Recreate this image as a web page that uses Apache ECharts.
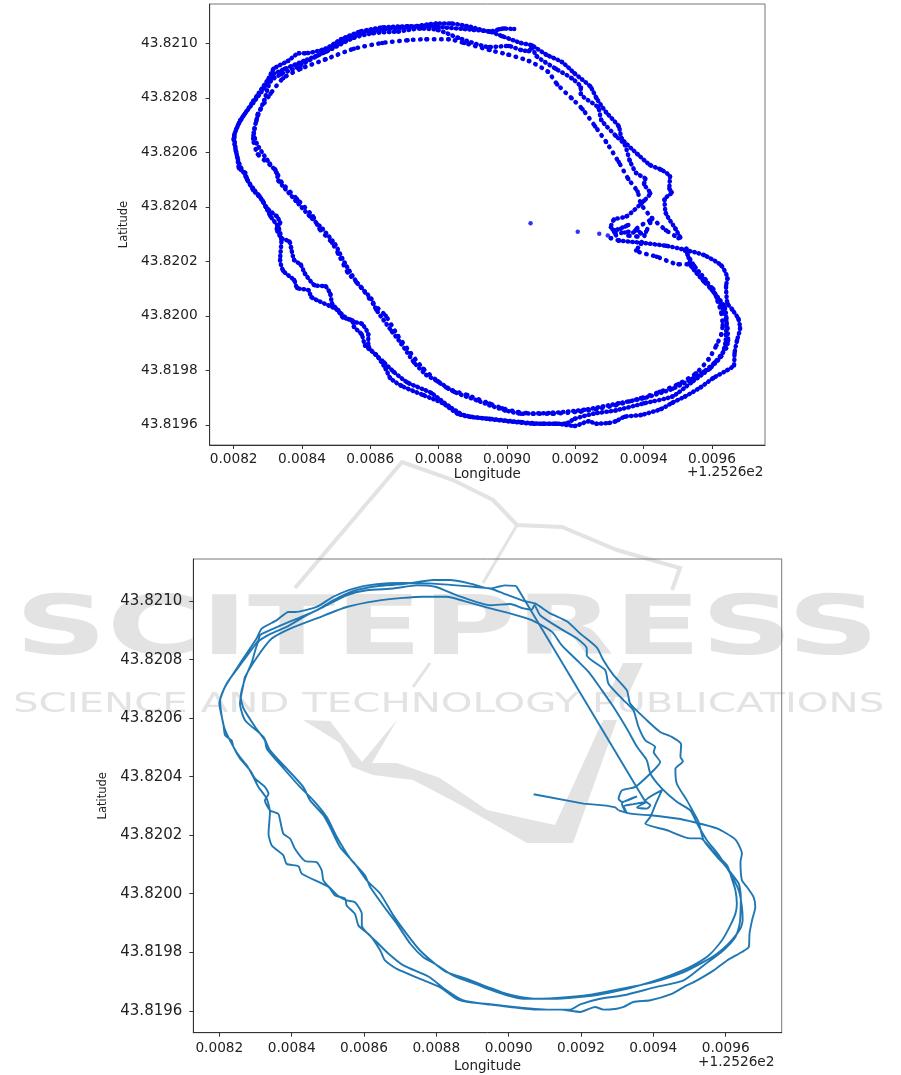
<!DOCTYPE html>
<html><head><meta charset="utf-8">
<style>html,body{margin:0;padding:0;background:#fff}#c{width:901px;height:1075px}</style>
<script src="https://cdn.jsdelivr.net/npm/echarts@6/dist/echarts.min.js"></script>
</head><body><div id="c"></div>
<script>
// Track readings as [longitude, latitude], in 1e-5 degrees from the base 125.26 / 43.82
const standingPoints = [[906.9,34.0],[920.7,30.8],[927.0,30.1],[929.5,29.5]];
const lap1 = [[930.4,28.5],[932.7,27.6],[931.8,29.9],[934.5,30.6],[938.2,31.4],[935.5,29.5],[938.2,29.1],[939.2,30.2],[937.8,31.7],[942.4,35.4],[940.7,30.8],[939.2,26.3],[937.8,24.0],[943.8,21.7],[950.2,18.9],[953.0,18.9],[956.7,14.3],[960.4,9.7],[961.7,5.2],[962.7,1.2],[963.1,-3.4],[962.7,-6.8],[961.3,-10.8],[959.0,-15.9],[955.3,-21.1],[950.2,-25.0],[944.7,-27.9],[939.2,-30.2],[931.8,-32.8],[926.2,-34.2],[921.6,-35.1],[913.3,-35.9],[907.8,-35.9],[903.2,-35.3],[898.6,-33.9],[894.9,-32.2],[888.4,-29.1],[882.9,-26.8],[879.7,-24.0],[875.5,-19.4],[871.8,-13.7],[868.1,-7.4],[864.5,0.0],[860.8,4.5],[857.5,10.2],[853.4,15.9],[850.6,22.8],[848.8,26.8],[845.1,31.9],[843.2,36.5],[838.6,42.8],[834.0,49.0],[832.2,53.6],[827.1,59.3],[825.7,65.0],[826.7,71.8],[827.1,74.1],[830.8,81.5],[834.5,87.2],[839.6,90.6],[846.9,94.1],[855.2,98.0],[863.5,100.1],[870.9,101.1],[876.4,101.5],[882.9,101.5],[887.5,100.1],[894.9,97.5],[900.4,95.8],[906.4,93.5],[912.0,89.5],[914.7,84.9],[918.9,79.8],[922.1,75.8],[925.8,69.5],[929.0,63.8],[932.7,56.4],[935.5,50.2],[938.2,45.6],[939.2,41.0],[942.4,35.9],[946.5,31.4],[950.2,28.5]];
const lap2 = [[952.1,24.0],[954.8,18.3],[958.1,13.2],[961.3,6.9],[963.6,1.2],[964.5,-4.5],[964.7,-9.1],[964.1,-11.9],[960.8,-17.1],[957.6,-20.5],[953.9,-23.3],[948.4,-26.8],[940.1,-30.2],[932.7,-32.1],[922.6,-34.5],[913.3,-35.6],[904.1,-35.9],[899.5,-34.7],[894.9,-32.8],[891.2,-31.0],[884.7,-28.0],[879.7,-24.0],[876.4,-21.7],[872.8,-17.1],[869.1,-10.3],[866.3,-5.7],[861.7,2.3],[860.3,6.2],[856.2,12.0],[852.5,19.4],[849.7,26.2],[846.0,31.9],[842.3,36.5],[838.2,42.2],[833.1,49.6],[832.6,52.4],[829.9,57.0],[826.7,63.3],[825.9,67.3],[827.1,73.5],[829.0,79.2],[830.8,86.1],[834.0,88.7],[838.6,91.2],[844.2,95.2],[848.8,98.0],[855.2,102.0],[860.8,103.7],[868.1,104.3],[874.6,105.4],[879.7,104.9],[885.7,102.0],[894.9,98.6],[900.4,99.0],[904.1,97.5],[906.4,97.1],[907.1,98.6],[908.7,95.2],[914.3,90.6],[918.9,87.2],[921.6,83.8],[921.6,81.5],[926.7,76.4],[927.6,71.8],[931.8,66.1],[934.5,62.7],[935.9,57.0],[937.8,52.4],[940.5,50.2],[940.1,48.4],[941.9,45.0],[940.1,42.2],[935.0,36.5],[931.3,35.3],[930.4,32.5],[931.3,31.4],[935.5,33.3],[931.3,30.8]];
const lap3 = [[932.7,27.6],[939.2,26.8],[946.5,25.7],[951.1,24.5],[957.6,22.3],[962.7,18.5],[964.5,13.7],[964.1,10.9],[964.5,4.6],[965.9,2.3],[967.7,-1.1],[968.2,-4.5],[967.3,-9.1],[966.6,-13.6],[966.4,-18.2],[964.5,-19.9],[960.4,-22.8],[956.7,-26.2],[952.1,-29.6],[948.4,-31.9],[945.1,-34.2],[939.2,-36.4],[934.5,-37.0],[931.8,-38.7],[929.9,-39.3],[926.2,-39.6],[923.9,-38.7],[919.8,-40.4],[914.3,-39.6],[907.8,-39.6],[900.4,-38.7],[894.9,-37.9],[887.5,-36.5],[882.9,-33.1],[877.8,-28.3],[870.9,-24.5],[866.8,-20.5],[864.0,-17.1],[859.4,-10.9],[859.4,-6.9],[857.5,-2.9],[855.2,-2.3],[852.5,-0.4],[850.6,2.0],[848.8,4.5],[848.3,8.0],[846.9,10.8],[843.7,11.2],[840.9,15.4],[839.6,18.8],[837.7,20.5],[836.8,25.1],[836.3,27.3],[834.0,28.5],[832.6,31.9],[833.6,34.2],[832.6,36.5],[829.9,39.3],[828.5,42.2],[825.7,46.2],[823.9,50.2],[823.4,52.4],[821.6,54.1],[821.1,58.1],[820.0,65.0],[821.6,70.7],[825.7,78.7],[830.3,87.2],[831.7,90.6],[835.9,93.5],[839.1,96.3],[840.9,96.3],[846.9,98.0],[851.5,101.5],[857.1,104.3],[863.5,105.8],[870.9,106.2],[879.2,106.0],[890.3,104.9],[894.9,104.3],[898.6,102.6],[904.1,100.1],[907.3,99.2],[911.5,95.8],[916.1,93.1],[919.8,88.9],[924.4,84.1],[926.2,79.8],[929.0,74.7],[932.7,69.5],[933.6,65.0],[938.2,59.3],[941.9,55.3],[945.1,53.6],[947.7,51.1],[947.5,46.7],[948.2,45.3],[946.1,42.7],[946.5,37.6],[949.3,31.9],[950.7,28.7]];
const lap4 = [[952.5,24.6],[953.9,18.3],[957.6,12.6],[959.4,10.3],[963.6,3.5],[964.2,-1.1],[964.1,-6.8],[963.9,-10.2],[962.7,-14.8],[959.4,-19.3],[953.9,-24.5],[948.4,-29.6],[940.1,-32.1],[931.8,-34.7],[925.3,-35.9],[919.8,-37.8],[917.0,-39.6],[910.6,-39.6],[904.1,-39.0],[894.9,-37.8],[889.3,-37.1],[885.7,-36.0],[881.1,-32.0],[875.5,-29.1],[869.1,-25.7],[865.8,-22.8],[864.5,-19.4],[861.7,-14.3],[858.5,-10.9],[857.5,-6.9],[855.2,-4.0],[854.8,-1.7],[852.0,-0.6],[850.2,2.3],[842.8,6.8],[841.9,9.4],[838.6,10.2],[837.7,13.1],[834.5,16.5],[833.6,20.5],[834.0,27.9],[833.1,32.5],[830.8,36.5],[829.4,39.9],[827.6,43.9],[825.7,46.7],[823.9,50.2],[821.6,55.9],[820.7,60.4],[820.2,66.1],[822.0,71.8],[825.7,78.1],[830.8,86.6],[831.3,88.4],[835.0,90.6],[840.5,93.5],[847.0,96.9],[851.5,100.3],[857.1,103.5],[863.5,105.1],[870.9,105.8],[879.2,107.2],[883.8,107.2],[889.4,106.0],[894.9,104.3],[897.7,105.1],[899.0,105.4],[902.1,105.2]];
const lastFix = [[937.8,31.4]];
const lonTicks = ["0.0082","0.0084","0.0086","0.0088","0.0090","0.0092","0.0094","0.0096"];
const latTicks = ["43.8196","43.8198","43.8200","43.8202","43.8204","43.8206","43.8208","43.8210"];
const lonTitle = "Longitude", latTitle = "Latitude", lonOffset = "+1.2526e2";
const markText = "SCITEPRESS", markSub = "SCIENCE AND TECHNOLOGY PUBLICATIONS";

const toDeg = p => [p[0] / 1e5, 43.82 + p[1] / 1e5];
const FONT = '"DejaVu Sans"', INK = '#222';
const xAxis = (gridIndex, min, max, nameGap, margin) => ({
  type:'value', gridIndex, min, max, scale:true, name:lonTitle, nameLocation:'middle', nameGap,
  nameTextStyle:{fontFamily:FONT,fontSize:13.5,color:INK},
  splitLine:{show:false}, axisLine:{show:true,onZero:false,lineStyle:{color:'#333',width:1}},
  axisTick:{show:true,length:4,customValues:lonTicks.map(Number),lineStyle:{color:'#333'}},
  axisLabel:{fontFamily:FONT,fontSize:13.7,color:INK,margin,customValues:lonTicks.map(Number),formatter:v=>v.toFixed(4)}
});
const yAxis = (gridIndex, min, max, nameGap, margin, fontSize) => ({
  type:'value', gridIndex, min, max, scale:true, name:latTitle, nameLocation:'middle', nameGap,
  nameTextStyle:{fontFamily:FONT,fontSize:11.5,color:INK},
  splitLine:{show:false}, axisLine:{show:true,onZero:false,lineStyle:{color:'#333',width:1}},
  axisTick:{show:true,length:4,customValues:latTicks.map(Number),lineStyle:{color:'#333'}},
  axisLabel:{fontFamily:FONT,fontSize,color:INK,margin,padding:[3,0,0,0],customValues:latTicks.map(Number),formatter:v=>v.toFixed(4)}
});
const dotted = (data, gap) => ({
  type:'line', xAxisIndex:0, yAxisIndex:0, data:data.map(toDeg), smooth:0.2, silent:true,
  showSymbol:true, showAllSymbol:true, symbol:'circle', symbolSize:4.5, itemStyle:{color:'#0000f0'},
  lineStyle:{color:'#0000f0',width:4.5,type:[0.5,gap],cap:'round'}, animation:false
});
const trackLine = (data, smooth) => ({
  type:'line', xAxisIndex:1, yAxisIndex:1, data:data.map(toDeg), showSymbol:false, smooth, silent:true,
  lineStyle:{color:'#1f77b4',width:1.9}
});
const tail = standingPoints.concat(lap1.slice(0,1));
const body = [].concat(lap1, lap2, lap3, lap4);
const returnLeg = lap4.slice(-1).concat(lastFix);

const grey = '#e3e3e3';
const chart = echarts.init(document.getElementById('c'), null, {renderer:'canvas', width:901, height:1075});
chart.setOption({
  animation:false, backgroundColor:'#fff',
  grid:[
    {left:209.7, top:4, width:555.3, height:441, show:true, borderColor:'#777', borderWidth:1, backgroundColor:'transparent'},
    {left:193.3, top:559, width:588.4, height:473.7, show:true, borderColor:'#777', borderWidth:1, backgroundColor:'transparent'}
  ],
  xAxis:[xAxis(0,0.00813,0.009755,22,7), xAxis(1,0.008128,0.009755,27,9)],
  yAxis:[yAxis(0,43.819526,43.821144,74,12,13.7), yAxis(1,43.819525,43.821144,77,11,15)],
  series:[
    {type:'scatter', xAxisIndex:0, yAxisIndex:0, data:standingPoints.map(toDeg), symbolSize:4.5, itemStyle:{color:'#0000f0'}, silent:true},
    dotted(lap1,6.5), dotted(lap2,4.5), dotted(lap3,4), dotted(lap4,4),
    trackLine(tail,false), trackLine(body,0.2), trackLine(returnLeg,false)
  ],
  graphic:{elements:[
    {type:'polyline',z:-1,silent:true,shape:{points:[[295,588],[402,462],[453,480],[493,500],[517,525],[562,527],[617,550],[680,568],[672,590]]},style:{stroke:grey,lineWidth:4,fill:null}},
    {type:'polyline',z:-1,silent:true,shape:{points:[[517,525],[483,583]]},style:{stroke:grey,lineWidth:3,fill:null}},
    {type:'polyline',z:-1,silent:true,shape:{points:[[430,663],[413,687]]},style:{stroke:grey,lineWidth:3,fill:null}},
    {type:'polygon',z:-1,silent:true,shape:{points:[[303,720],[330,721],[350,747],[362,762],[397,720],[372,763],[397,763],[440,778],[487,810],[555,825],[603,720],[617,720],[573,843],[527,843],[457,803],[413,780],[373,775],[352,767],[340,743]]},style:{fill:grey}},
    {type:'polygon',z:-1,silent:true,shape:{points:[[623,663],[643,663],[627,697],[607,697]]},style:{fill:grey}},
    {type:'text',z:-1,silent:true,x:15,y:633,scaleX:1.556,style:{text:markText,font:'bold 82px "DejaVu Sans"',fill:grey,verticalAlign:'middle'}},
    {type:'text',z:-1,silent:true,x:13,y:705,scaleX:1.55,style:{text:markSub,font:'26px "DejaVu Sans"',fill:grey,verticalAlign:'middle'}},
    {type:'text',silent:true,x:687,y:472,style:{text:lonOffset,font:'13.7px "DejaVu Sans"',fill:INK,verticalAlign:'middle'}},
    {type:'text',silent:true,x:698,y:1062,style:{text:lonOffset,font:'13.7px "DejaVu Sans"',fill:INK,verticalAlign:'middle'}}
  ]}
});
</script></body></html>
